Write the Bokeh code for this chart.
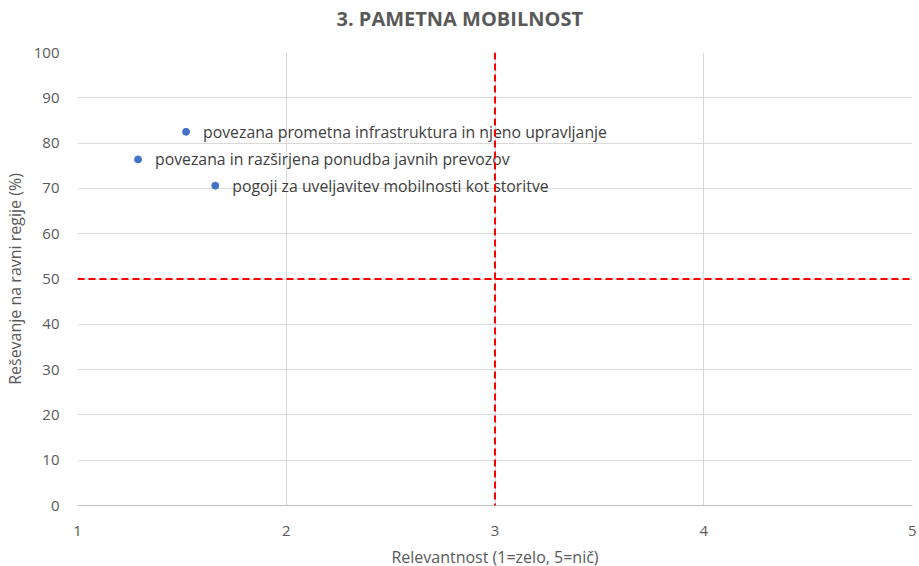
from bokeh.plotting import figure
from bokeh.models import ColumnDataSource, Span, Title, FixedTicker
from bokeh.core.properties import value
from bokeh.embed import file_html
from bokeh.resources import INLINE

labels = ["povezana prometna infrastruktura in njeno upravljanje",
          "povezana in razširjena ponudba javnih prevozov",
          "pogoji za uveljavitev mobilnosti kot storitve"]
relevance = [1.52, 1.29, 1.66]
regional = [82.5, 76.4, 70.6]
x_ticks = [1, 2, 3, 4, 5]
y_ticks = [0, 10, 20, 30, 40, 50, 60, 70, 80, 90, 100]
x_threshold = 3
y_threshold = 50
title_text = "3. PAMETNA MOBILNOST"

FONT = "Open Sans"
src = ColumnDataSource(dict(x=relevance, y=regional, label=labels))

p = figure(frame_width=835, frame_height=453, x_range=(1, 5), y_range=(0, 100),
           output_backend="svg", toolbar_location=None,
           min_border_left=69, min_border_right=4, min_border_top=52, min_border_bottom=40)
p.title = None
p.outline_line_color = None

p.add_layout(Title(text=title_text, align="left", offset=259, standoff=0,
                   vertical_align="top",
                   padding=dict(left=0, right=0, top=4, bottom=19),
                   text_font=FONT, text_font_size="20px", text_font_style="bold",
                   text_color="#595959"), "above")

p.xaxis.ticker = FixedTicker(ticks=x_ticks)
p.yaxis.ticker = FixedTicker(ticks=y_ticks)
for ax in (p.xaxis[0], p.yaxis[0]):
    ax.major_tick_line_color = None
    ax.minor_tick_line_color = None
    ax.major_label_text_font = FONT
    ax.major_label_text_font_size = "15px"
    ax.major_label_text_color = "#595959"
    ax.axis_label_text_font = FONT
    ax.axis_label_text_font_size = "16px"
    ax.axis_label_text_font_style = "normal"
    ax.axis_label_text_color = "#595959"
p.xaxis.axis_label = "Relevantnost (1=zelo, 5=nič)"
p.yaxis.axis_label = "Reševanje na ravni regije (%)"
p.xaxis.axis_line_color = "#bfbfbf"
p.yaxis.axis_line_color = None
p.xaxis.major_label_standoff = 14
p.yaxis.major_label_standoff = 12
p.xaxis.axis_label_standoff = 7
p.yaxis.axis_label_standoff = 5

p.xgrid.grid_line_color = "#d9d9d9"
p.ygrid.grid_line_color = "#d9d9d9"

p.add_layout(Span(location=x_threshold, dimension="height", line_color="#ff0000",
                  line_width=2, line_dash="7 4"))
p.add_layout(Span(location=y_threshold, dimension="width", line_color="#ff0000",
                  line_width=2, line_dash="7 4"))

p.scatter("x", "y", source=src, size=7, color="#4472C4")
p.text("x", "y", text="label", source=src, x_offset=17, text_baseline="middle",
       text_font=value(FONT), text_font_size="15.8px", text_color="#404040")

open("out.html", "w").write(file_html(p, INLINE))
